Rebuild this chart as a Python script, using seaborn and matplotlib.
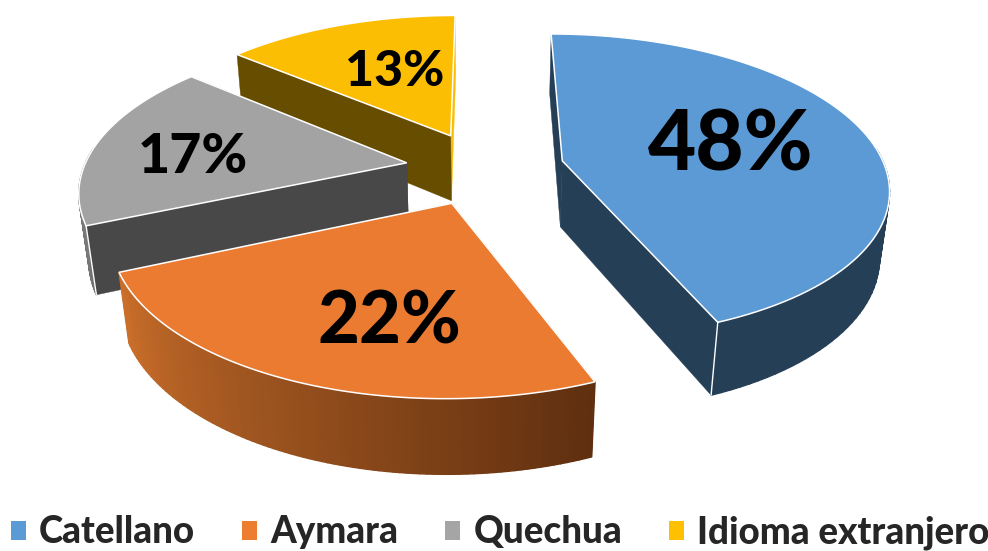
import matplotlib.pyplot as plt
from matplotlib.patches import Patch, Polygon
from matplotlib.collections import PolyCollection
import numpy as np
import seaborn as sns

# printed labels and the slice shares as they are drawn (the drawn slices do not follow the labels)
categories = ["Catellano", "Aymara", "Quechua", "Idioma extranjero"]
labels = ["48%", "22%", "17%", "13%"]
shares = [43.9, 24.6, 17.6, 13.9]

legend_colors = ["#5B9BD5", "#ED7D31", "#A5A5A5", "#FFC000"]
top_draw = ["#5B9AD5", "#EA7B31", "#A3A3A3", "#FCBE03"]
start_faces = ["#253F57", "#633210", "#484848", "#674D00"]
end_faces = ["#253F57", "#633210", "#484848", "#FCBE03"]
rim_from = ["#253F57", "#5F2F0F", "#707070", "#E0AA00"]
rim_to = ["#253F57", "#CB6F2B", "#9A9A9A", "#E0AA00"]
label_sizes = [60, 52, 40, 36]
label_radius = [0.55, 0.675, 0.672, 0.54]
label_shift = [0, -9, -5, 3]
explode = [0.252, 0.245, 0.24, 0.245]
draw_order = [3, 2, 0, 1]

CX, CY = 483, 168
F, G, P = 323, 150, 0.165
DEPTH, Q = 68, 0.025


def project(x, y, z=0.0):
    w = 1 + P * np.asarray(y) + Q * z
    return CX + F * np.asarray(x) / w, CY - (G * np.asarray(y) - DEPTH * z) / w


def disk(apex, angle, r=1.0):
    a = np.radians(angle)
    return apex[0] + r * np.sin(a), apex[1] + r * np.cos(a)


def draw_slice(ax, i, start, end):
    mid = np.radians((start + end) / 2)
    apex = (explode[i] * np.sin(mid), explode[i] * np.cos(mid))
    angles = np.linspace(start, end, 90)
    xs, ys = disk(apex, angles)

    sx, sy = project(xs, ys)
    bx, by = project(xs, ys, 1.0)
    ax_s, ay_s = project(apex[0], apex[1])
    ax_b, ay_b = project(apex[0], apex[1], 1.0)

    start_face = np.column_stack([[ax_s, sx[0], bx[0], ax_b], [ay_s, sy[0], by[0], ay_b]])
    end_face = np.column_stack([[ax_s, sx[-1], bx[-1], ax_b], [ay_s, sy[-1], by[-1], ay_b]])

    ax.add_patch(Polygon(end_face, facecolor=end_faces[i], edgecolor=end_faces[i], linewidth=0.3))
    # slices facing front keep the wall above the cut face
    if i in (0, 1):
        ax.add_patch(Polygon(start_face, facecolor=start_faces[i], edgecolor=start_faces[i], linewidth=0.3))

    # outer wall, one strip per arc step so it can carry the shading; the back part is never seen
    shades = sns.blend_palette([rim_from[i], rim_to[i]], len(angles) - 1)
    front = [k for k in range(len(angles) - 1) if np.cos(np.radians(angles[k])) < 0.1]
    strips = [[(sx[k], sy[k]), (sx[k + 1], sy[k + 1]), (bx[k + 1], by[k + 1]), (bx[k], by[k])]
              for k in front]
    if strips:
        ax.add_collection(PolyCollection(strips, facecolors=[shades[k] for k in front],
                                         edgecolors=[shades[k] for k in front], linewidths=1.0))

    if i in (2, 3):
        ax.add_patch(Polygon(start_face, facecolor=start_faces[i], edgecolor=start_faces[i], linewidth=0.3))

    # white corner edge where the front faces meet the wall
    if i == 0:
        ax.plot([sx[-1], bx[-1]], [sy[-1], by[-1]], color="white", lw=1.0)
    if i == 2:
        ax.plot([sx[0], bx[0]], [sy[0], by[0]], color="white", lw=1.0)

    top = np.column_stack([np.r_[ax_s, sx], np.r_[ay_s, sy]])
    ax.add_patch(Polygon(top, closed=True, facecolor=top_draw[i], edgecolor="white", linewidth=1.1))

    lab_a = (start + end) / 2 + label_shift[i]
    lx, ly = disk(apex, lab_a, label_radius[i])
    px, py = project(lx, ly)
    ax.text(px, py, labels[i], fontsize=label_sizes[i], fontweight="black", color="black",
            ha="center", va="center", family="Lato")


sns.set_theme(style="white")
plt.rcParams["font.family"] = ["Lato", "DejaVu Sans"]

fig = plt.figure(figsize=(9.88, 5.51), dpi=100)
ax = fig.add_axes([0, 0, 1, 1])
ax.set_xlim(0, 988)
ax.set_ylim(551, 0)
ax.axis("off")

edges = np.r_[0, np.cumsum(shares)] / np.sum(shares) * 360
for i in draw_order:
    draw_slice(ax, i, edges[i], edges[i + 1])

handles = [Patch(facecolor=c, edgecolor="none", label=n) for c, n in zip(legend_colors, categories)]
ax.legend(handles=handles, loc="lower left", bbox_to_anchor=(0.0, -0.018), ncol=4, frameon=False,
          prop={"family": "Lato", "weight": "black", "size": 26.5}, handlelength=0.41, handleheight=0.41,
          handletextpad=0.35, columnspacing=1.28, borderpad=0, borderaxespad=0.3)

plt.savefig("out.png", dpi=100)
